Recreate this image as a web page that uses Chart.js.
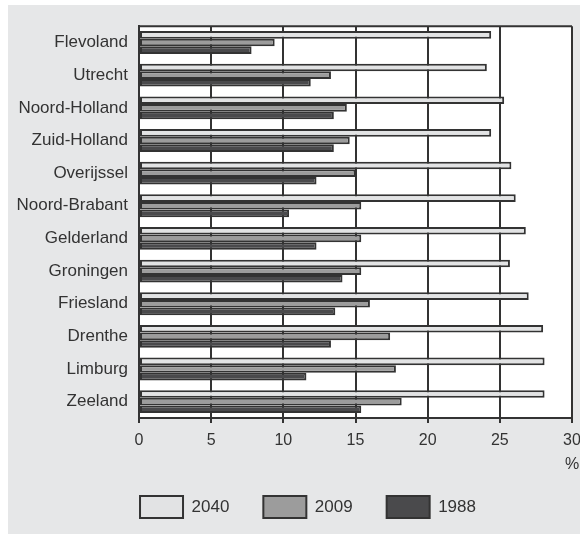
<!DOCTYPE html>
<html>
<head>
<meta charset="utf-8">
<script src="https://cdn.jsdelivr.net/npm/chart.js@4"></script>
<style>
  html, body { margin: 0; padding: 0; background: #fff; }
  #wrap { position: absolute; left: 8px; top: 5px; width: 572px; height: 529px; background: #e6e7e8; }
</style>
</head>
<body>
<div id="wrap"><canvas id="chart"></canvas></div>
<script>
// ---------- data ---------- //
const provinces = [
  "Flevoland", "Utrecht", "Noord-Holland", "Zuid-Holland", "Overijssel",
  "Noord-Brabant", "Gelderland", "Groningen", "Friesland", "Drenthe",
  "Limburg", "Zeeland"
];
const share2040 = [24.4, 24.1, 25.3, 24.4, 25.8, 26.1, 26.8, 25.7, 27.0, 28.0, 28.1, 28.1];
const share2009 = [9.4, 13.3, 14.4, 14.6, 15.0, 15.4, 15.4, 15.4, 16.0, 17.4, 17.8, 18.2];
const share1988 = [7.8, 11.9, 13.5, 13.5, 12.3, 10.4, 12.3, 14.1, 13.6, 13.3, 11.6, 15.4];
const xTicks = [0, 5, 10, 15, 20, 25, 30];

const ink = "#333333";
const fontFamily = "'Liberation Sans', Arial, sans-serif";

// white plot area + top frame line + "%" unit under the last tick
const framePlugin = {
  id: "frame",
  afterLayout(chart) {
    // legend is centred on the whole canvas, nudge it under the plot like the original
    chart.legend.left += 18;
    chart.legend.right += 18;
  },
  beforeDraw(chart) {
    const { ctx, chartArea: a } = chart;
    ctx.save();
    ctx.fillStyle = "#ffffff";
    ctx.fillRect(a.left, a.top, a.right - a.left, a.bottom - a.top);
    ctx.restore();
  },
  afterDraw(chart) {
    const { ctx, chartArea: a, scales } = chart;
    ctx.save();
    ctx.strokeStyle = ink;
    ctx.lineWidth = 2;
    ctx.beginPath();
    ctx.moveTo(a.left, a.top);
    ctx.lineTo(a.right, a.top);
    ctx.stroke();
    ctx.fillStyle = ink;
    ctx.font = "16px " + fontFamily;
    ctx.textAlign = "center";
    ctx.textBaseline = "middle";
    ctx.fillText("%", scales.x.getPixelForValue(xTicks[xTicks.length - 1]), scales.x.top + 47);
    ctx.restore();
  },
};

function makeSet(label, data, color) {
  return {
    label,
    data,
    backgroundColor: color,
    borderColor: ink,
    borderWidth: 2,
    borderSkipped: false,
    barPercentage: 1.0,
    categoryPercentage: 0.7,
  };
}

new Chart(document.getElementById("chart"), {
  type: "bar",
  data: {
    labels: provinces,
    datasets: [
      makeSet("2040", share2040, "#e2e3e4"),
      makeSet("2009", share2009, "#9c9c9c"),
      makeSet("1988", share1988, "#4a4a4c"),
    ],
  },
  options: {
    indexAxis: "y",
    responsive: true,
    maintainAspectRatio: false,
    animation: false,
    layout: { padding: { left: 0, right: 8, top: 20, bottom: 6 } },
    scales: {
      x: {
        min: xTicks[0],
        max: xTicks[xTicks.length - 1],
        afterBuildTicks: (scale) => {
          scale.ticks = xTicks.map((v) => ({ value: v }));
        },
        afterFit: (scale) => {
          scale.height = 44;
          scale.paddingLeft = 0;
          scale.paddingRight = 0;
        },
        ticks: {
          color: ink,
          padding: 8,
          maxRotation: 0,
          font: { family: fontFamily, size: 16 },
        },
        grid: { color: ink, lineWidth: 2, tickLength: 5 },
        border: { color: ink, width: 2 },
      },
      y: {
        afterFit: (scale) => {
          scale.width = 131;
        },
        ticks: {
          color: ink,
          padding: 11,
          font: { family: fontFamily, size: 17 },
        },
        grid: { display: false, drawTicks: false },
        border: { color: ink, width: 2 },
      },
    },
    plugins: {
      tooltip: { enabled: false },
      legend: {
        position: "bottom",
        align: "center",
        labels: {
          boxWidth: 43,
          boxHeight: 22,
          padding: 34,
          color: ink,
          font: { family: fontFamily, size: 17 },
        },
      },
    },
  },
  plugins: [framePlugin],
});
</script>
</body>
</html>
